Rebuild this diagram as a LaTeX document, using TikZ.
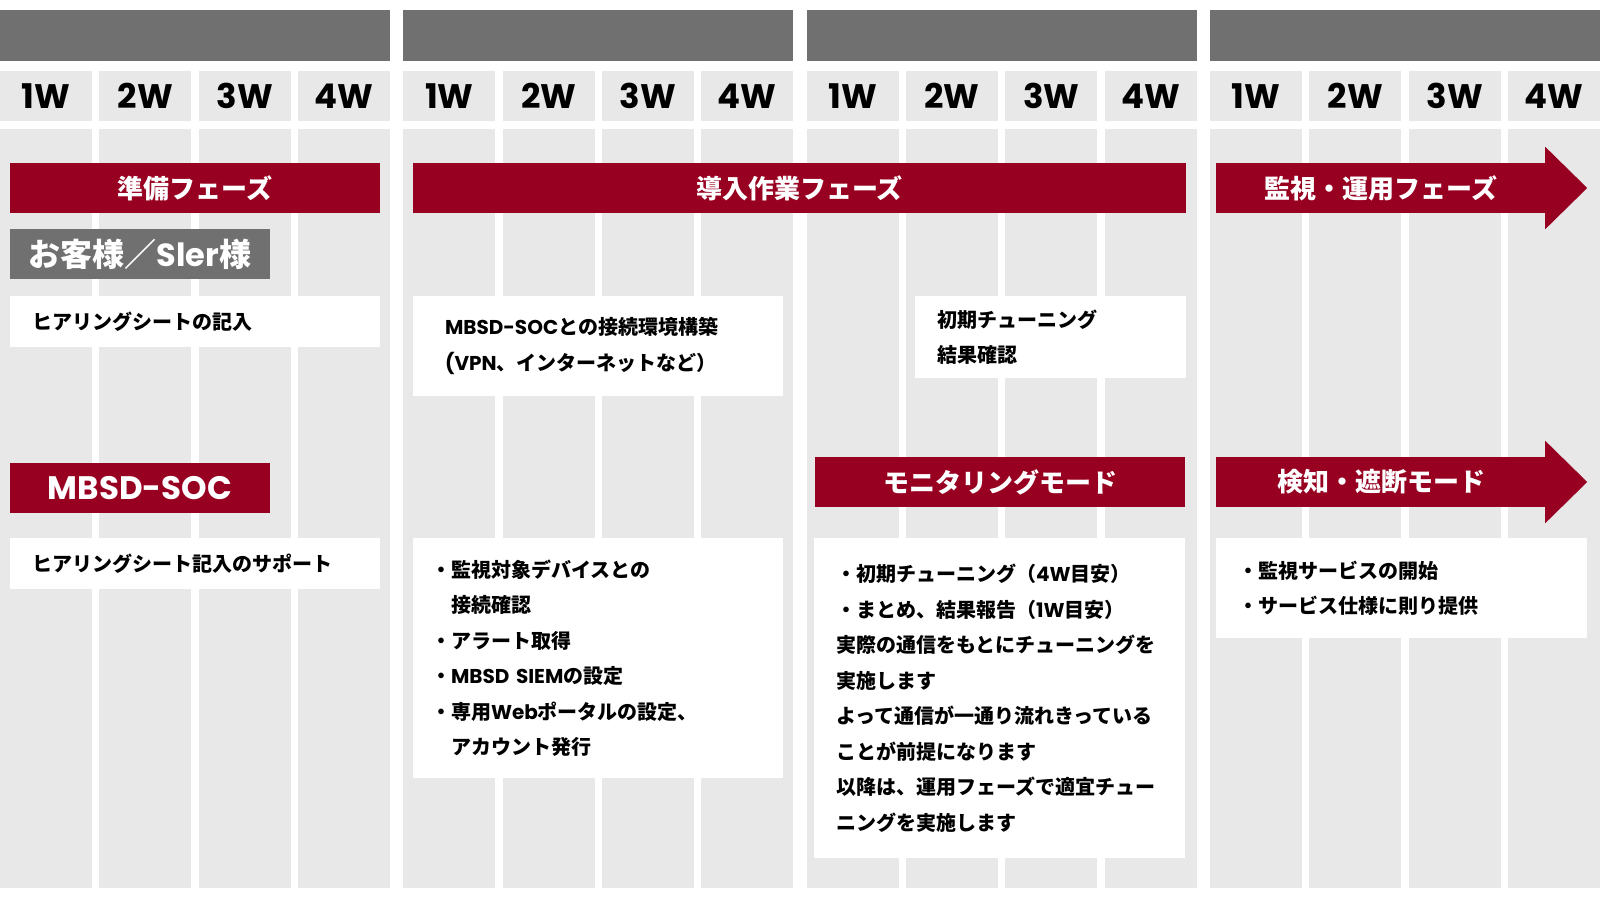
\documentclass[tikz,border=0pt]{standalone}
\usepackage{fontspec}
\setmainfont{Noto Sans CJK JP}
\newfontfamily\latfont{Poppins}
\newcommand\romaji[1]{{\latfont #1}}
\definecolor{accent}{RGB}{152,0,34}
\definecolor{hdrgray}{RGB}{112,112,112}
\definecolor{cellgray}{RGB}{232,232,232}
\tikzset{
  hdr/.style={fill=hdrgray},
  cell/.style={fill=cellgray},
  week/.style={font=\latfont\bfseries\fontsize{34}{34}\selectfont},
  bar/.style={fill=accent, text=white, inner sep=0pt, minimum height=50pt,
    font=\bfseries\fontsize{26}{26}\selectfont},
  tag/.style={text=white, inner sep=0pt, minimum width=260pt, minimum height=50pt,
    font=\bfseries\fontsize{32}{32}\selectfont},
  memo/.style={fill=white, align=left, inner xsep=22pt, inner ysep=0pt,
    font=\bfseries\fontsize{20}{35.5}\selectfont}
}
\begin{document}
\begin{tikzpicture}[x=1pt,y=-1pt]
\useasboundingbox (0,0) rectangle (1600,900);
% columns
\foreach \g in {0,...,3}{
  \fill[hdr] (\g*403.33,10) rectangle ++(390,51);
  \foreach \c [evaluate=\c as \n using int(\c+1)] in {0,...,3}{
    \fill[cell] (\g*403.33+\c*99.33,71) rectangle ++(92,50);
    \fill[cell] (\g*403.33+\c*99.33,129) rectangle ++(92,759);
    \node[week] (w\g\c) at (\g*403.33+\c*99.33+46,96) {\n W};
  }
}
% phase bars
\node[bar, minimum width=370pt] (prep) at (195,188) {準備フェーズ};
\node[bar, minimum width=773pt] (install) at (799.5,188) {導入作業フェーズ};
\node[bar, minimum width=330pt] (ops) at (1381,188) {監視・運用フェーズ};
\fill[accent] ([xshift=-1pt,yshift=16pt]ops.north east) -- ([xshift=41pt]ops.east)
  -- ([xshift=-1pt,yshift=-16pt]ops.south east) -- cycle;
% customer side
\node[tag, fill=hdrgray] (client) at (140,254) {お客様／\romaji{Sler}様};
\node[memo, text width=326pt, minimum height=51pt] (hearing) at (195,321.5) {ヒアリングシートの記入};
\node[memo, inner xsep=32pt, text width=306pt, minimum height=100pt] (connect) at (598,346)
  {\romaji{MBSD-SOC}との接続環境構築\\\romaji{(VPN}、インターネットなど）};
\node[memo, text width=227pt, minimum height=82pt] (tune) at (1050.5,337)
  {初期チューニング\\結果確認};
% soc side
\node[tag, fill=accent, font=\latfont\bfseries\fontsize{32.5}{32.5}\selectfont] (soc) at (140,488) {MBSD-SOC};
\node[memo, text width=326pt, minimum height=51pt] (support) at (195,563.5) {ヒアリングシート記入のサポート};
\node[memo, inner xsep=18pt, text width=334pt, minimum height=240pt] (setup) at (598,658)
  {・監視対象デバイスとの\\
   \phantom{・}接続確認\\
   ・アラート取得\\
   ・\romaji{MBSD SIEM}の設定\\
   ・専用\romaji{Web}ポータルの設定、\\
   \phantom{・}アカウント発行};
\node[bar, minimum width=370pt] (monitor) at (1000,482) {モニタリングモード};
\node[memo, text width=327pt, minimum height=320pt] (detail) at (999.5,698)
  {・初期チューニング（\romaji{4W}目安）\\
   ・まとめ、結果報告（\romaji{1W}目安）\\
   実際の通信をもとにチューニングを\\
   実施します\\
   よって通信が一通り流れきっている\\
   ことが前提になります\\
   以降は、運用フェーズで適宜チュー\\
   ニングを実施します};
\node[bar, minimum width=330pt] (detect) at (1381,482) {検知・遮断モード};
\fill[accent] ([xshift=-1pt,yshift=16pt]detect.north east) -- ([xshift=41pt]detect.east)
  -- ([xshift=-1pt,yshift=-16pt]detect.south east) -- cycle;
\node[memo, text width=327pt, minimum height=100pt] (service) at (1401.5,588)
  {・監視サービスの開始\\・サービス仕様に則り提供};
\end{tikzpicture}
\end{document}
